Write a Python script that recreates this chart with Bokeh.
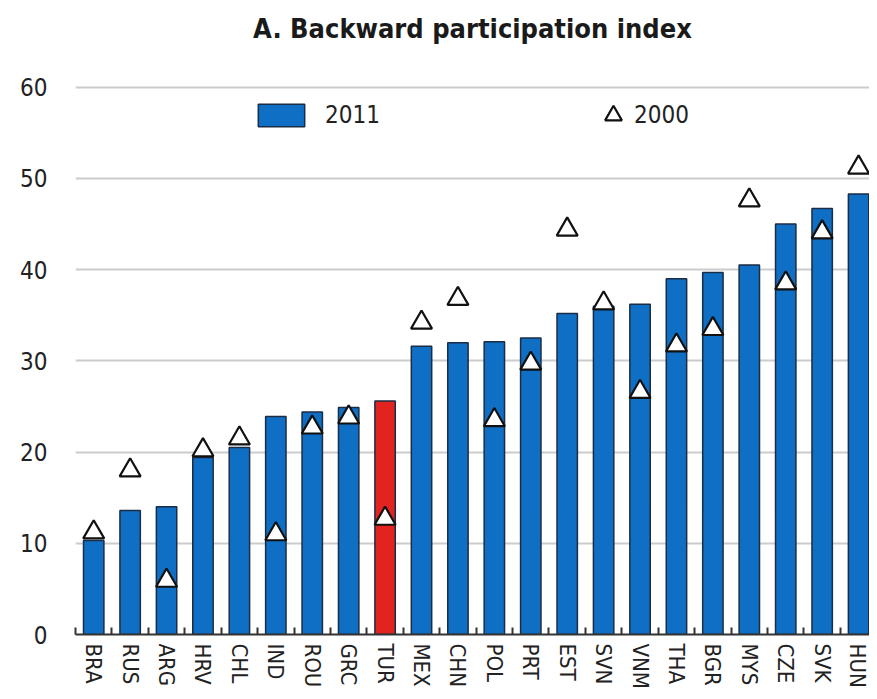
import numpy as np
from bokeh.plotting import figure
from bokeh.models import ColumnDataSource, FixedTicker, Legend, LegendItem, Range1d
from bokeh.embed import file_html
from bokeh.resources import INLINE

countries = ["BRA", "RUS", "ARG", "HRV", "CHL", "IND", "ROU", "GRC", "TUR", "MEX", "CHN",
             "POL", "PRT", "EST", "SVN", "VNM", "THA", "BGR", "MYS", "CZE", "SVK", "HUN"]
v2011 = [10.3, 13.6, 14.0, 19.4, 20.5, 23.9, 24.4, 24.9, 25.6, 31.6, 32.0,
         32.1, 32.5, 35.2, 36.0, 36.2, 39.0, 39.7, 40.5, 45.0, 46.7, 48.3]
v2000 = [11.2, 18.0, 5.9, 20.2, 21.5, 11.0, 22.7, 23.8, 12.7, 34.2, 36.8,
         23.5, 29.7, 44.4, 36.3, 26.6, 31.7, 33.5, 47.6, 38.5, 44.1, 51.2]
highlight = "TUR"
y_ticks = [0, 10, 20, 30, 40, 50, 60]
title_text = "A. Backward participation index"

BLUE = "#0f6fc4"
RED = "#e2231f"
FONT = "'Liberation Sans Narrow', 'DejaVu Sans Condensed', 'Liberation Sans', sans-serif"

idx = list(range(len(countries)))
colors = [RED if c == highlight else BLUE for c in countries]
src = ColumnDataSource(dict(x=idx, v11=v2011, v00=v2000, color=colors, name=countries))

p = figure(width=869, height=691, output_backend="svg", toolbar_location=None,
           x_range=Range1d(-0.5, len(countries) - 0.7), y_range=Range1d(0, 63.7),
           min_border_left=75, min_border_right=0, min_border_top=0, min_border_bottom=57,
           title=title_text)
p.title.align = "center"
p.title.text_font = FONT
p.title.text_font_size = "27px"
p.title.text_font_style = "bold"
p.title.text_color = "#1a1a1a"
p.title.standoff = 20
p.outline_line_color = None

bars = p.vbar(x="x", top="v11", width=0.56, source=src, fill_color="color",
              line_color="#1b2d45", line_width=1.5)
tri = p.scatter(x="x", y="v00", source=src, marker="triangle", size=21,
                fill_color="white", line_color="#111111", line_width=2.2)

# x axis
xa = p.xaxis[0]
xa.ticker = FixedTicker(ticks=idx, minor_ticks=[i - 0.5 for i in range(len(countries) + 1)])
xa.major_label_overrides = {i: c for i, c in enumerate(countries)}
xa.major_label_orientation = "vertical"
xa.major_label_text_font = FONT
xa.major_label_text_font_size = "22px"
xa.major_label_text_color = "#222222"
xa.major_label_standoff = 3
xa.major_tick_line_color = None
xa.minor_tick_in = 7
xa.minor_tick_out = 0
xa.minor_tick_line_color = "#333333"
xa.minor_tick_line_width = 2
xa.axis_line_color = "#333333"
xa.axis_line_width = 2

# y axis
ya = p.yaxis[0]
ya.ticker = FixedTicker(ticks=y_ticks)
ya.axis_line_color = None
ya.major_tick_line_color = None
ya.minor_tick_line_color = None
ya.major_label_text_font = FONT
ya.major_label_text_font_size = "24px"
ya.major_label_text_color = "#222222"
ya.major_label_standoff = 22

p.xgrid.visible = False
p.ygrid.ticker = FixedTicker(ticks=y_ticks[1:])
p.ygrid.grid_line_color = "#cccccc"
p.ygrid.grid_line_width = 2

leg1 = Legend(items=[LegendItem(label="2011", renderers=[bars], index=0)],
              location=(177, 505), orientation="horizontal",
              glyph_width=58, glyph_height=28, label_height=28,
              label_text_font=FONT, label_text_font_size="24px", label_text_color="#222222",
              label_standoff=15, padding=0, margin=0, border_line_color=None,
              background_fill_alpha=0)
leg2 = Legend(items=[LegendItem(label="2000", renderers=[tri], index=0)],
              location=(517, 498), orientation="horizontal",
              glyph_width=42, glyph_height=42, label_height=42,
              label_text_font=FONT, label_text_font_size="24px", label_text_color="#222222",
              label_standoff=-10, padding=0, margin=0, border_line_color=None,
              background_fill_alpha=0)
p.add_layout(leg1, "center")
p.add_layout(leg2, "center")

open("out.html", "w").write(file_html(p, INLINE))
